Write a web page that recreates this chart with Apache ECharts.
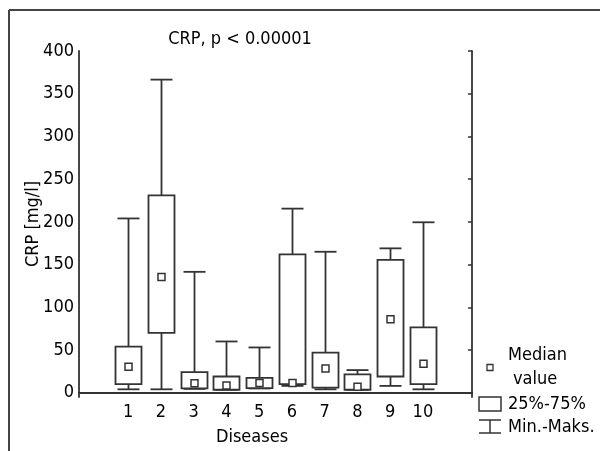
<!DOCTYPE html>
<html>
<head>
<meta charset="utf-8">
<script src="https://cdn.jsdelivr.net/npm/echarts@6/dist/echarts.min.js"></script>
<style>
  html, body { margin: 0; padding: 0; background: #fff; }
  #chart { width: 600px; height: 451px; }
</style>
</head>
<body>
<div id="chart"></div>
<script>
var categories = ['1', '2', '3', '4', '5', '6', '7', '8', '9', '10'];
var mins = [4, 4, 4.5, 3.5, 5, 8, 4, 3.5, 8, 4];
var q1 = [10, 70, 5, 3.5, 5.5, 10, 6, 3.5, 19, 10];
var medians = [30.5, 135.5, 11, 8.5, 11.5, 11.5, 28.5, 7, 86, 34];
var q3 = [54, 231, 24, 19, 17.5, 162, 47, 21.5, 155.5, 76.5];
var maxs = [204, 366.5, 141.5, 60, 53, 215.5, 165, 26.5, 169, 199.5];
var yTicks = [0, 50, 100, 150, 200, 250, 300, 350, 400];

var FONT = '"DejaVu Sans Condensed", "DejaVu Sans", sans-serif';
var FONTSTR = 'condensed 18px ' + FONT;
var INK = '#333';

var axisCats = [''].concat(categories).concat(['']);
var boxData = [];
for (var i = 0; i < categories.length; i++) {
  boxData.push([i + 1, mins[i], q1[i], medians[i], q3[i], maxs[i]]);
}

function renderBox(params, api) {
  var x = api.value(0);
  var pMin = api.coord([x, api.value(1)]);
  var pQ1 = api.coord([x, api.value(2)]);
  var pMed = api.coord([x, api.value(3)]);
  var pQ3 = api.coord([x, api.value(4)]);
  var pMax = api.coord([x, api.value(5)]);
  var cx = Math.round(pMin[0]) + 0.5;
  var bw = 26, cw = 22, ms = 7;
  var ls = { stroke: INK, lineWidth: 1.8, fill: null };
  return {
    type: 'group',
    children: [
      { type: 'line', shape: { x1: cx, y1: pMin[1], x2: cx, y2: pMax[1] }, style: ls },
      { type: 'line', shape: { x1: cx - cw / 2, y1: pMin[1], x2: cx + cw / 2, y2: pMin[1] }, style: ls },
      { type: 'line', shape: { x1: cx - cw / 2, y1: pMax[1], x2: cx + cw / 2, y2: pMax[1] }, style: ls },
      { type: 'rect', shape: { x: cx - bw / 2, y: pQ3[1], width: bw, height: pQ1[1] - pQ3[1] },
        style: { stroke: INK, lineWidth: 1.8, fill: '#fff' } },
      { type: 'rect', shape: { x: cx - ms / 2, y: pMed[1] - ms / 2, width: ms, height: ms },
        style: { stroke: INK, lineWidth: 1.5, fill: '#fff' } }
    ]
  };
}

function label(txt, x, y, align) {
  return { type: 'text', x: x, y: y,
    style: { text: txt, font: FONTSTR, fill: '#000', textAlign: align || 'left', textVerticalAlign: 'middle' } };
}

var myChart = echarts.init(document.getElementById('chart'));
var option = {
  backgroundColor: '#fff',
  animation: false,
  grid: { left: 79, top: 51, right: 128, bottom: 54 },
  xAxis: [{
    type: 'category',
    data: axisCats,
    boundaryGap: true,
    position: 'bottom',
    axisLine: { lineStyle: { color: INK, width: 1.8 } },
    axisTick: { inside: true, alignWithLabel: true, interval: 0, length: 4, lineStyle: { color: INK, width: 1.5 } },
    axisLabel: { color: '#000', fontSize: 18, fontWeight: 'condensed', fontFamily: FONT, margin: 6, interval: 0 },
    splitLine: { show: false }
  }, {
    type: 'category',
    data: axisCats,
    boundaryGap: true,
    position: 'top',
    axisLine: { lineStyle: { color: INK, width: 1.8 } },
    axisTick: { inside: true, alignWithLabel: true, interval: 0, length: 4, lineStyle: { color: INK, width: 1.5 } },
    axisLabel: { show: false },
    splitLine: { show: false }
  }],
  yAxis: [{
    type: 'value',
    min: -5,
    max: 400,
    position: 'left',
    axisLine: { show: true, lineStyle: { color: INK, width: 1.8 } },
    axisTick: { show: false, customValues: yTicks },
    axisLabel: { color: '#000', fontSize: 18, fontWeight: 'condensed', fontFamily: FONT, margin: 5, customValues: yTicks },
    splitLine: { show: false }
  }, {
    type: 'value',
    min: -5,
    max: 400,
    position: 'right',
    axisLine: { show: true, lineStyle: { color: INK, width: 1.8 } },
    axisTick: { show: true, inside: true, length: 4, customValues: yTicks, lineStyle: { color: INK, width: 1.5 } },
    axisLabel: { show: false, customValues: yTicks },
    splitLine: { show: false }
  }],
  series: [{
    type: 'custom',
    renderItem: renderBox,
    data: boxData,
    encode: { x: 0, y: [1, 2, 3, 4, 5] },
    xAxisIndex: 0,
    yAxisIndex: 0,
    clip: false
  }],
  graphic: [
    { type: 'line', shape: { x1: 9, y1: 10, x2: 600, y2: 10 }, style: { stroke: '#444', lineWidth: 2 } },
    { type: 'line', shape: { x1: 9, y1: 10, x2: 9, y2: 451 }, style: { stroke: '#444', lineWidth: 2 } },
    label('CRP, p < 0.00001', 240, 39, 'center'),
    label('Diseases', 252, 437, 'center'),
    { type: 'text', x: 33, y: 224, rotation: Math.PI / 2,
      style: { text: 'CRP [mg/l]', font: FONTSTR, fill: '#000', textAlign: 'center', textVerticalAlign: 'middle' } },
    { type: 'rect', shape: { x: 487, y: 364.5, width: 6, height: 6 }, style: { stroke: INK, lineWidth: 1.3, fill: '#fff' } },
    label('Median', 508, 355),
    label('value', 513, 379),
    { type: 'rect', shape: { x: 479, y: 397, width: 22, height: 14 }, style: { stroke: INK, lineWidth: 1.5, fill: '#fff' } },
    label('25%-75%', 508, 404),
    { type: 'line', shape: { x1: 479, y1: 420, x2: 501, y2: 420 }, style: { stroke: INK, lineWidth: 1.5 } },
    { type: 'line', shape: { x1: 490, y1: 420, x2: 490, y2: 433 }, style: { stroke: INK, lineWidth: 1.5 } },
    { type: 'line', shape: { x1: 479, y1: 433, x2: 501, y2: 433 }, style: { stroke: INK, lineWidth: 1.5 } },
    label('Min.-Maks.', 508, 427)
  ]
};
myChart.setOption(option);
</script>
</body>
</html>
